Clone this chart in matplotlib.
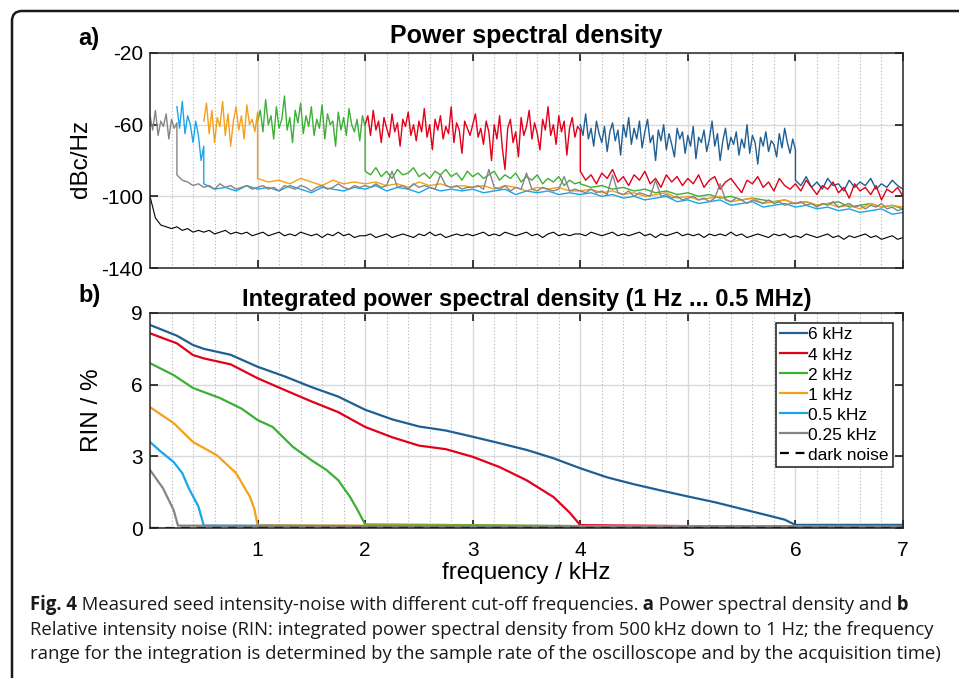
import numpy as np
import matplotlib
matplotlib.use("Agg")
import matplotlib.pyplot as plt
from matplotlib.path import Path
from matplotlib.patches import PathPatch

plt.rcParams["font.family"] = ["Liberation Sans", "DejaVu Sans"]
plt.rcParams["axes.unicode_minus"] = False

W_PX, H_PX = 959, 678

# ── a) power spectral density, dBc/Hz (segments: start kHz, step kHz, values) ──
GRAY_HI = (0.0, 0.025, [-55, -63, -52, -66, -58, -61, -54, -68, -57, -62, -59])
GRAY_LO = (0.25, 0.05, [
    -88, -91, -92, -94, -93, -95, -94, -96, -93, -95, -94, -96, -95, -94, -96,
    -95, -94, -96, -95, -97, -94, -95, -96, -94, -95, -97, -95, -94, -96, -95, -93, -95, -96, -94, -95,
    -94, -95, -93, -95, -94, -86, -95, -94, -96, -93, -95, -94, -95, -96, -88, -94, -95, -94, -96, -95,
    -95, -94, -96, -85, -95, -96, -94, -97, -95, -96, -87, -96, -97, -95, -96, -97, -96, -89, -97, -96,
    -97, -98, -96, -98, -97, -99, -88, -98, -99, -97, -100, -98, -99, -100, -91, -100, -99, -101, -100, -102,
    -101, -100, -102, -101, -103, -101, -93, -102, -103, -101, -102, -104, -102, -103, -104, -102, -104, -103, -105, -104,
    -104, -103, -105, -104, -106, -104, -105, -103, -106, -105, -104, -106, -105, -107, -105, -106, -104, -107, -106, -108, -107])

LBLUE_HI = (0.25, 0.025, [-50, -62, -47, -65, -55, -60, -70, -58, -66, -80, -72])
LBLUE_LO = (0.5, 0.1, [
    -93, -96, -95, -97, -94,
    -96, -95, -97, -94, -96, -98, -95, -96, -97, -95,
    -96, -94, -97, -95, -96, -98, -95, -97, -96, -97,
    -96, -98, -97, -96, -99, -97, -98, -97, -99, -98,
    -99, -98, -100, -99, -101, -100, -102, -101, -100, -103,
    -102, -104, -103, -102, -105, -104, -103, -106, -105, -104,
    -106, -105, -107, -106, -108, -107, -109, -108, -107, -110, -109])

ORANGE_HI = (0.5, 0.025, [-58, -48, -65, -52, -70, -56, -61, -47, -66, -54, -72,
                          -58, -50, -63, -55, -68, -49, -60, -57, -64, -53])
ORANGE_LO = (1.0, 0.1, [
    -90, -92, -91, -93, -90, -92, -94, -91, -93, -92,
    -93, -92, -94, -93, -95, -92, -94, -93, -95, -94,
    -95, -94, -96, -94, -95, -97, -95, -96, -95, -97,
    -97, -96, -98, -97, -99, -98, -100, -99, -98, -101,
    -100, -102, -101, -100, -103, -102, -101, -104, -103, -102,
    -104, -103, -105, -104, -106, -105, -107, -104, -106, -105, -106])

GREEN_HI = (1.0, 0.025, [
    -58, -52, -64, -46, -60, -55, -68, -50, -62, -57, -44, -63, -56, -70, -52, -59, -48, -65, -55, -61,
    -50, -66, -57, -62, -49, -68, -54, -60, -58, -72, -53, -63, -56, -66, -51, -60, -64, -57, -69, -55, -61])
GREEN_MID = (2.0, 0.05, [
    -86, -88, -84, -89, -86, -90, -85, -88, -87, -84, -89, -87, -90, -86, -88, -85, -89, -87, -91, -86,
    -89, -87, -90, -88, -86, -91, -88, -90, -87, -92, -89, -91, -88, -93, -90, -92, -89, -94, -91, -93, -92])
GREEN_LO = (4.0, 0.1, [
    -93, -95, -94, -96, -95, -97, -96, -98, -97, -99, -98, -100, -99, -101, -100, -102,
    -101, -102, -103, -102, -104, -103, -105, -104, -103, -106, -105, -104, -106, -105, -107])

RED_HI = (2.0, 0.025, [
    -60, -55, -66, -52, -63, -58, -70, -56, -62, -67, -54, -64, -59, -72, -57, -61, -53, -66, -60, -69,
    -58, -64, -51, -67, -60, -74, -57, -63, -55, -68, -61, -65, -50, -70, -59, -63, -76, -58, -62, -66,
    -60, -54, -67, -62, -71, -58, -64, -80, -60, -68, -55, -73, -85, -62, -57, -70, -64, -78, -56, -66,
    -61, -52, -68, -59, -65, -74, -57, -63, -50, -66, -60, -71, -55, -64, -58, -77, -62, -56, -67, -61,
    -63])
RED_LO = (4.0, 0.05, [
    -86, -91, -88, -93, -87, -90, -85, -92, -89, -94, -88, -91, -86, -93, -90, -95, -88, -92, -89, -94,
    -90, -93, -88, -95, -91, -89, -96, -92, -90, -94, -98, -91, -93, -89, -95, -92, -97, -90, -94, -96,
    -93, -97, -91, -95, -99, -94, -96, -92, -98, -95, -101, -93, -97, -95, -99, -94, -102, -96, -98, -95, -100])

BLUE6_HI = (4.0, 0.025, [
    -60, -66, -54, -68, -62, -72, -58, -65, -70, -61, -75, -64, -59, -69, -63, -77, -60, -67, -56, -71,
    -62, -68, -58, -73, -64, -57, -70, -66, -80, -63, -69, -60, -74, -65, -71, -78, -62, -68, -64, -76,
    -66, -72, -61, -79, -67, -70, -63, -75, -68, -58, -72, -65, -80, -69, -62, -74, -67, -71, -64, -77,
    -68, -73, -60, -76, -66, -70, -82, -67, -72, -64, -75, -69, -71, -78, -65, -73, -62, -70, -76, -68,
    -74])
BLUE6_LO = (6.0, 0.05, [-91, -94, -89, -95, -92, -96, -90, -94, -93, -97, -91,
                        -95, -92, -94, -90, -96, -93, -95, -91, -94, -96])

DARK_PSD = (0.0, 0.05, [
    -100, -112, -116, -117, -118, -117, -119, -118, -120, -119, -120, -119, -121, -120, -119, -121, -120, -121, -120, -122,
    -121, -120, -122, -121, -120, -122, -121, -122, -120, -121, -122, -121, -123, -121, -122, -120, -122, -121, -123, -122,
    -122, -121, -123, -122, -121, -123, -122, -121, -122, -123, -121, -122, -120, -122, -121, -123, -122, -121, -122, -121,
    -122, -121, -120, -122, -121, -122, -120, -121, -122, -121, -120, -122, -121, -123, -121, -120, -122, -121, -122, -121,
    -121, -122, -120, -121, -122, -121, -120, -122, -121, -122, -121, -120, -122, -121, -123, -121, -122, -121, -120, -122,
    -121, -122, -121, -123, -121, -122, -121, -122, -120, -122, -121, -123, -122, -121, -122, -123, -121, -122, -121, -123,
    -122, -123, -121, -122, -123, -122, -121, -123, -122, -124, -122, -123, -122, -121, -123, -122, -124, -123, -122, -124, -123])

# ── b) integrated RIN, % ──
RIN_6K_F = [0, 0.25, 0.4, 0.5, 0.75, 1.0, 1.25, 1.5, 1.75, 2.0, 2.25, 2.5, 2.75, 3.0, 3.25, 3.5,
            3.75, 4.0, 4.25, 4.5, 4.75, 5.0, 5.25, 5.5, 5.75, 5.9, 6.0, 6.5, 7.0]
RIN_6K = [8.5, 8.05, 7.66, 7.5, 7.25, 6.75, 6.35, 5.9, 5.5, 4.95, 4.55, 4.25, 4.08, 3.82, 3.55, 3.27,
          2.92, 2.5, 2.12, 1.83, 1.57, 1.32, 1.08, 0.8, 0.52, 0.35, 0.13, 0.13, 0.13]
RIN_4K_F = [0, 0.25, 0.4, 0.5, 0.75, 1.0, 1.25, 1.5, 1.75, 2.0, 2.25, 2.5, 2.75, 3.0, 3.25, 3.5,
            3.75, 3.9, 4.0, 5.0, 7.0]
RIN_4K = [8.15, 7.73, 7.24, 7.1, 6.85, 6.27, 5.78, 5.3, 4.85, 4.23, 3.8, 3.45, 3.3, 2.98, 2.55, 2.0,
          1.3, 0.65, 0.12, 0.08, 0.05]
RIN_2K_F = [0, 0.22, 0.4, 0.65, 0.85, 1.0, 1.14, 1.33, 1.5, 1.64, 1.75, 1.86, 1.93, 2.0, 3.0, 4.0, 7.0]
RIN_2K = [6.9, 6.4, 5.86, 5.44, 5.0, 4.52, 4.23, 3.39, 2.84, 2.43, 2.0, 1.3, 0.75, 0.15, 0.12, 0.08, 0.05]
RIN_1K_F = [0, 0.22, 0.4, 0.62, 0.8, 0.93, 0.97, 1.0, 2.0, 7.0]
RIN_1K = [5.06, 4.39, 3.6, 3.05, 2.3, 1.3, 0.8, 0.12, 0.1, 0.05]
RIN_05K_F = [0, 0.1, 0.22, 0.3, 0.36, 0.45, 0.5, 2.0, 7.0]
RIN_05K = [3.6, 3.2, 2.76, 2.3, 1.67, 0.9, 0.1, 0.08, 0.05]
RIN_025K_F = [0, 0.12, 0.22, 0.26, 2.0, 7.0]
RIN_025K = [2.43, 1.67, 0.75, 0.1, 0.07, 0.05]
RIN_DARK_F = [0, 7.0]
RIN_DARK = [0.02, 0.02]

LABELS = ["6 kHz", "4 kHz", "2 kHz", "1 kHz", "0.5 kHz", "0.25 kHz", "dark noise"]
COLORS = ["#1f5f94", "#e2001a", "#3caf35", "#f5a01a", "#1aa5ea", "#858585", "#000000"]

CAPTION = [
    [("Fig. 4", True), (" Measured seed intensity-noise with different cut-off frequencies.", False),
     (" a", True), (" Power spectral density and", False), (" b", True)],
    [("Relative intensity noise (RIN: integrated power spectral density from 500\u2009kHz down to 1 Hz; the frequency", False)],
    [("range for the integration is determined by the sample rate of the oscilloscope and by the acquisition time)", False)],
]


def seg(s):
    f0, step, vals = s
    return f0 + step * np.arange(len(vals)), np.array(vals, dtype=float)


def trace(*segs):
    parts = [seg(s) for s in segs]
    return np.concatenate([p[0] for p in parts]), np.concatenate([p[1] for p in parts])


def style(ax):
    ax.set_xlim(0, 7)
    ax.set_xticks(range(1, 8))
    ax.set_xticks(np.arange(0.2, 7.0, 0.2), minor=True)
    ax.set_axisbelow(True)
    ax.grid(which="major", color="#d9d9d9", lw=1.0)
    ax.grid(which="minor", axis="x", color="#b0b0b0", lw=0.8, ls=(0, (1, 2)))
    ax.tick_params(which="major", direction="in", length=6, width=1.2, top=True, right=True,
                   labelsize=15, color="#1a1a1a")
    ax.tick_params(which="minor", length=0)
    ax.tick_params(axis="x", pad=9)
    ax.tick_params(axis="y", pad=5)
    for sp in ax.spines.values():
        sp.set_linewidth(1.1)
        sp.set_color("#262626")


fig = plt.figure(figsize=(W_PX / 100, H_PX / 100), dpi=100)
ax1 = fig.add_axes([150 / W_PX, 1 - 268 / H_PX, 753 / W_PX, 215 / H_PX])
ax2 = fig.add_axes([150 / W_PX, 1 - 528 / H_PX, 753 / W_PX, 215 / H_PX])

# ── a) ────────────────────────────────────────────────────────────────────────
psd = [
    trace(BLUE6_HI, BLUE6_LO),
    trace(RED_HI, RED_LO),
    trace(GREEN_HI, GREEN_MID, GREEN_LO),
    trace(ORANGE_HI, ORANGE_LO),
    trace(LBLUE_HI, LBLUE_LO),
    trace(GRAY_HI, GRAY_LO),
]
for (f, v), c in zip(psd, COLORS[:6]):
    ax1.plot(f, v, color=c, lw=1.0)
fd, vd = seg(DARK_PSD)
ax1.plot(fd, vd, color="black", lw=0.8)

style(ax1)
ax1.set_ylim(-140, -20)
ax1.set_yticks([-140, -100, -60, -20])
ax1.tick_params(axis="x", labelbottom=False)
ax1.set_ylabel("dBc/Hz", fontsize=17.5)
ax1.yaxis.set_label_coords(-0.077, 0.507)
ax1.set_title("Power spectral density", fontsize=18, fontweight="bold", pad=7)

# ── b) ────────────────────────────────────────────────────────────────────────
rin = [(RIN_6K_F, RIN_6K), (RIN_4K_F, RIN_4K), (RIN_2K_F, RIN_2K), (RIN_1K_F, RIN_1K),
       (RIN_05K_F, RIN_05K), (RIN_025K_F, RIN_025K)]
for (f, v), c, lab in zip(rin, COLORS[:6], LABELS[:6]):
    ax2.plot(f, v, color=c, lw=1.6, label=lab)
ax2.plot(RIN_DARK_F, RIN_DARK, color="black", lw=1.6, ls=(0, (4, 3)), label=LABELS[6])

style(ax2)
ax2.set_ylim(0, 9)
ax2.set_yticks([0, 3, 6, 9])
ax2.set_ylabel("RIN / %", fontsize=17.5)
ax2.yaxis.set_label_coords(-0.062, 0.55)
ax2.set_xlabel("frequency / kHz", fontsize=17.5)
ax2.xaxis.set_label_coords(0.5, -0.158)
ax2.set_title("Integrated power spectral density (1 Hz ... 0.5 MHz)", fontsize=17,
              fontweight="bold", pad=5)
leg = ax2.legend(loc="upper right", bbox_to_anchor=(0.9867, 0.9535), fontsize=12.5,
                 handlelength=1.55, handletextpad=0.05, labelspacing=0.28, borderpad=0.25,
                 borderaxespad=0, fancybox=False, framealpha=1)
leg.get_frame().set_edgecolor("#1a1a1a")
leg.get_frame().set_linewidth(1.1)

fig.text(78 / W_PX, 1 - 38 / H_PX, "a)", fontsize=17, fontweight="bold", va="center")
fig.text(78 / W_PX, 1 - 296 / H_PX, "b)", fontsize=17, fontweight="bold", va="center")

# ── frame: left + top edge with rounded corner ───────────────────────────────
r = 10
verts = [(12, H_PX + 5), (12, 11 + r), (12, 11), (12 + r, 11), (W_PX + 5, 11)]
verts = [(x / 100, (H_PX - y) / 100) for x, y in verts]
codes = [Path.MOVETO, Path.LINETO, Path.CURVE3, Path.CURVE3, Path.LINETO]
fig.patches.append(PathPatch(Path(verts, codes), transform=fig.dpi_scale_trans,
                             fill=False, lw=1.8, edgecolor="#1a1a1a"))

# ── caption ─────────────────────────────────────────────────────────────────
CAP_FONT = ["Open Sans", "DejaVu Sans"]
renderer = fig.canvas.get_renderer()
probe = fig.text(0, 0, CAPTION[1][0][0], fontsize=10, family=CAP_FONT)
cap_size = 10 * 905 / probe.get_window_extent(renderer).width
probe.remove()

for line, y_px in zip(CAPTION, [605, 630, 654]):
    x = 30
    for txt, bold in line:
        t = fig.text(x / W_PX, 1 - y_px / H_PX, txt, fontsize=cap_size, family=CAP_FONT,
                     fontweight="bold" if bold else "normal", va="center", ha="left", color="#1a1a1a")
        x = t.get_window_extent(renderer).x1

fig.savefig("out.png", dpi=100)
